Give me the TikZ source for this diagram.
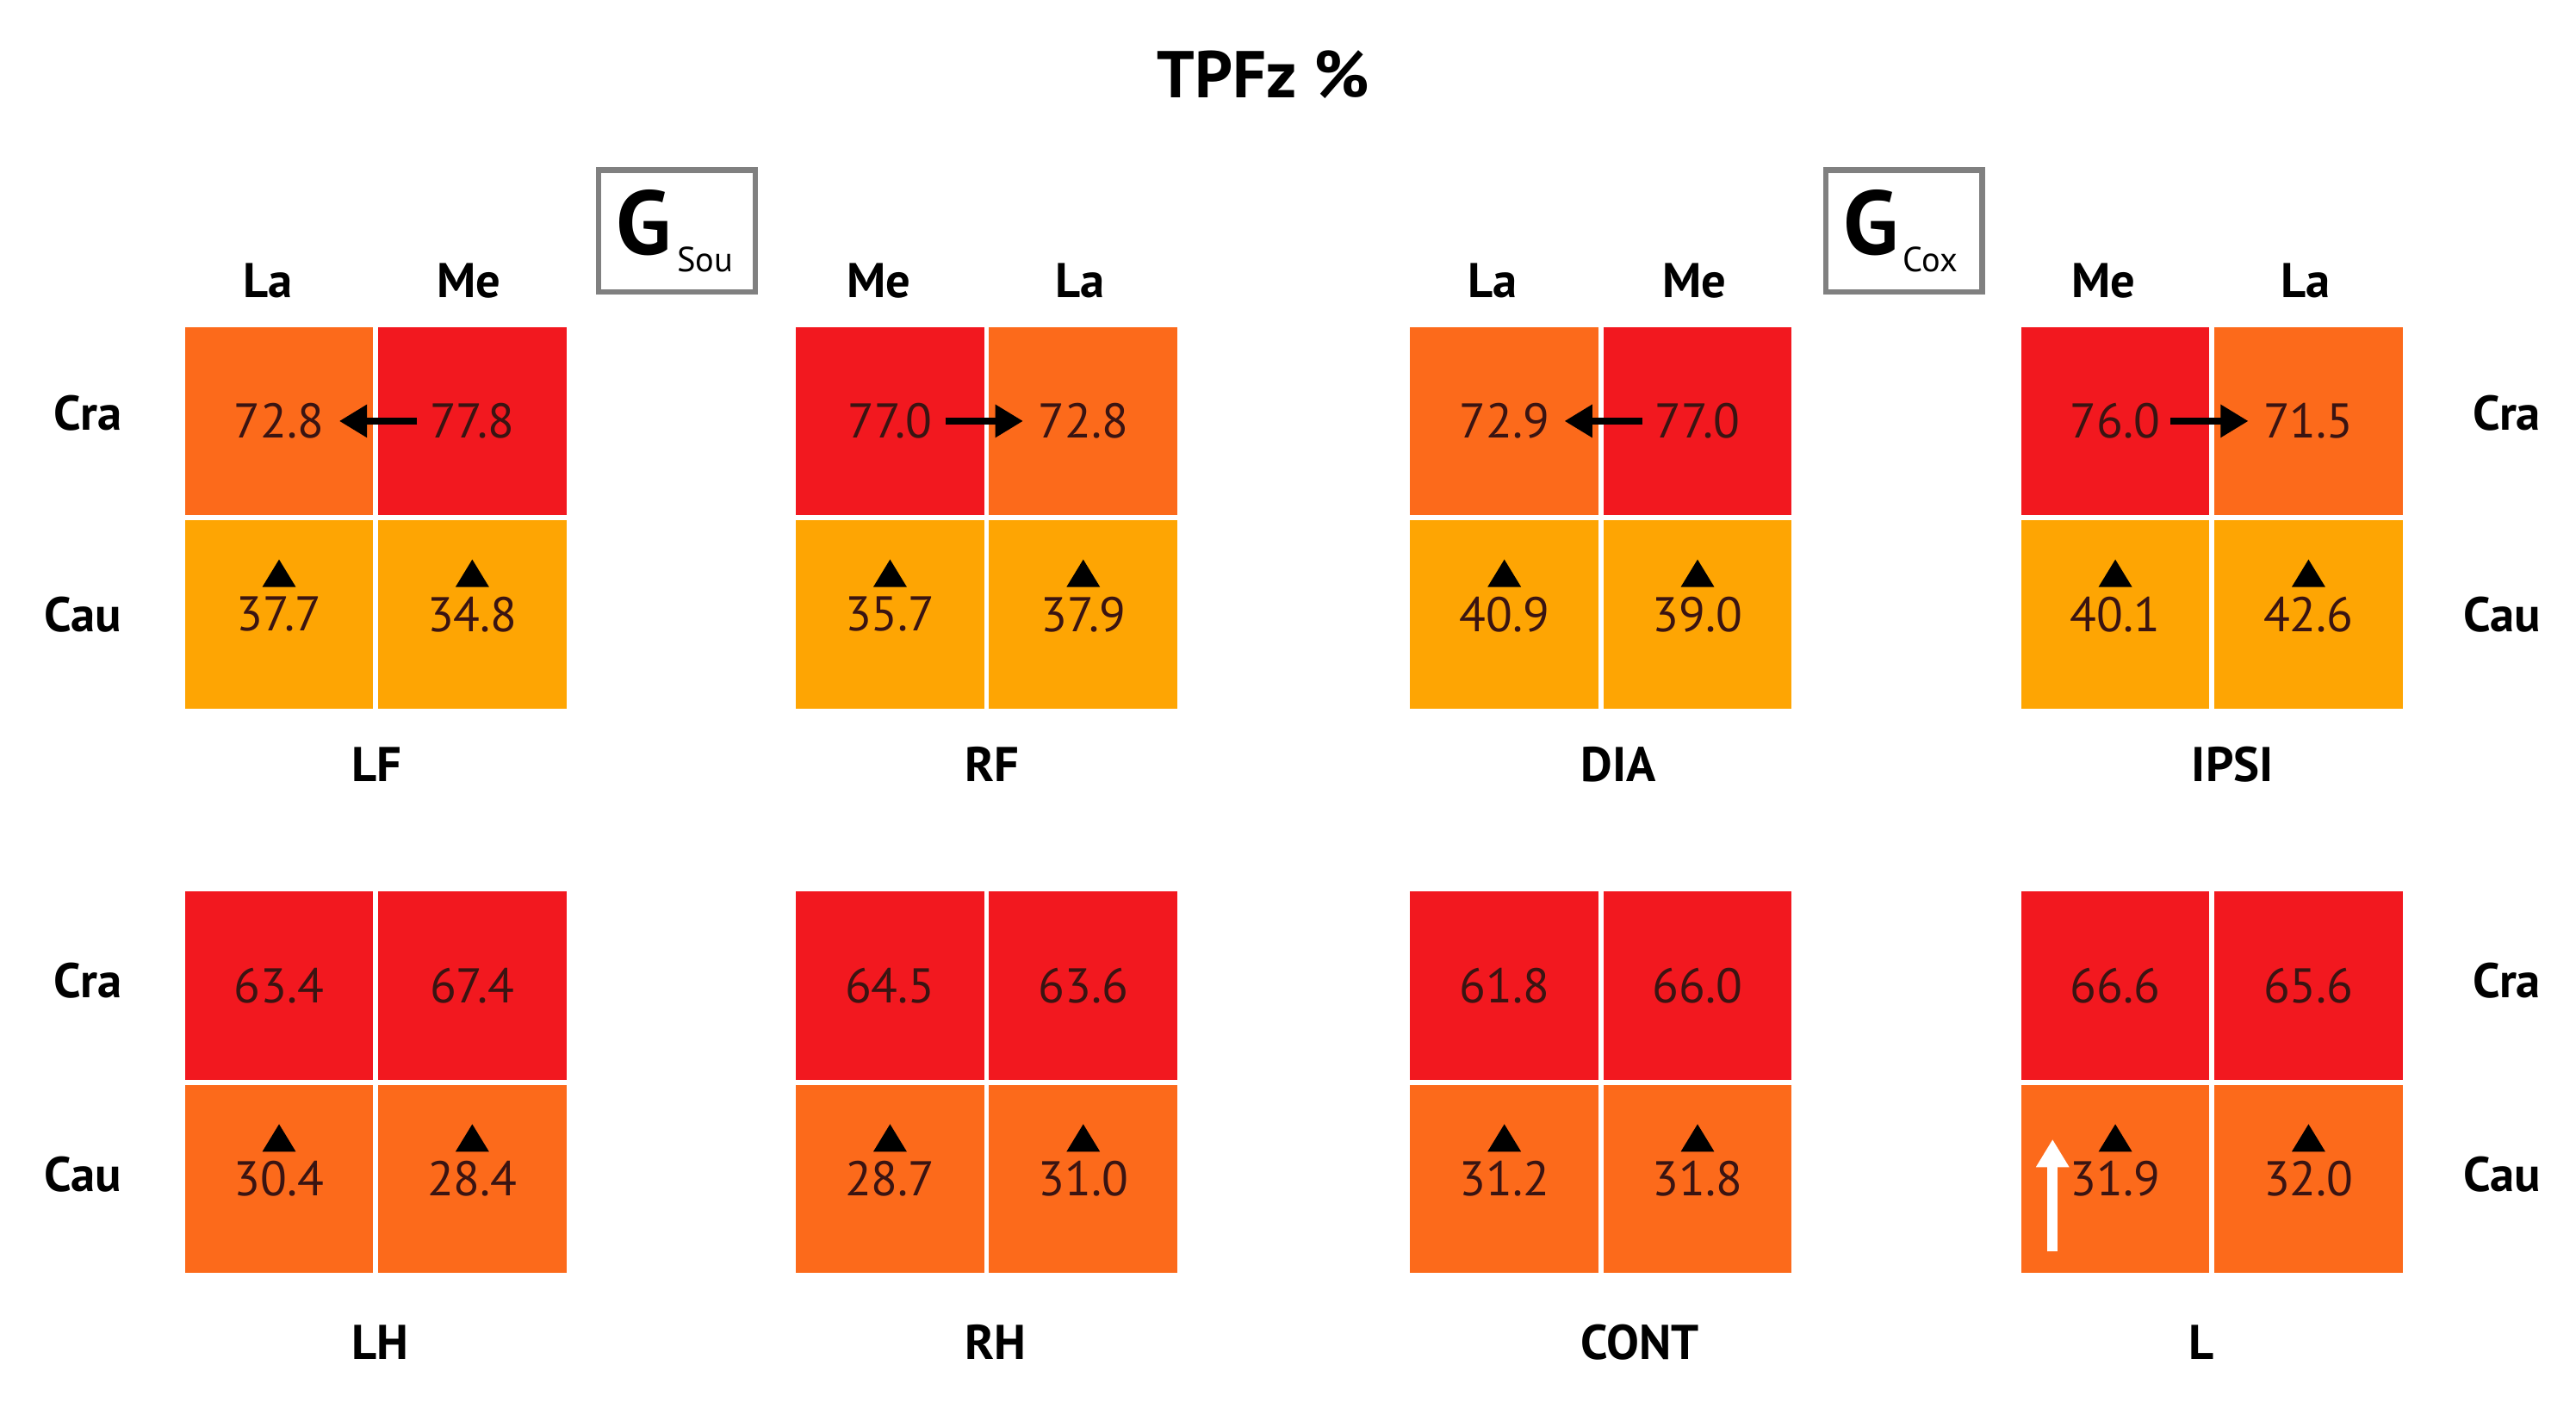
\documentclass[tikz,border=0pt]{standalone}
\usepackage{fontspec}
\setmainfont{PT Sans}
\usetikzlibrary{arrows.meta}

\definecolor{cred}{HTML}{F2181F}
\definecolor{corange}{HTML}{FC6A1B}
\definecolor{cyellow}{HTML}{FEA503}
\definecolor{cnum}{HTML}{3A1412}

\begin{document}
\begin{tikzpicture}[
            x = 1cm/60, y = -1cm/60, % one unit = one pixel of the reference
            > = {Triangle[length=8pt,width=9pt]}, % arrow head style
            cell/.style = {minimum width = 1.9cm, minimum height = 1.9cm, inner sep = 0pt,
                           font = \fontsize{14}{14}\selectfont, text = cnum},
            lab/.style = {font = \bfseries\fontsize{14}{14}\selectfont},
            flow/.style = {->, line width = 2pt, black},
            gbox/.style = {draw = gray, line width = 1.6pt, minimum width = 1.58cm,
                           minimum height = 1.23cm, inner sep = 0pt}
        ]

        \useasboundingbox (0,0) rectangle (1560,849);

        \node[font = \bfseries\fontsize{19}{19}\selectfont] (title) at (765,45) {TPFz \%};

        \node[gbox] (gsou) at (410,140) {};
        \node[font = \bfseries\fontsize{26}{26}\selectfont] at (390,135) {G};
        \node[font = \fontsize{10}{10}\selectfont] at (427,157) {Sou};
        \node[gbox] (gcox) at (1153,140) {};
        \node[font = \bfseries\fontsize{26}{26}\selectfont] at (1133,135) {G};
        \node[font = \fontsize{10}{10}\selectfont] at (1169,157) {Cox};

        % top row of panels
        \foreach \p/\x/\la/\lb/\ta/\tb/\ba/\bb/\ca/\cb/\h in {
                lf/112/La/Me/72.8/77.8/37.7/34.8/corange/cred/l,
                rf/482/Me/La/77.0/72.8/35.7/37.9/cred/corange/r,
                dia/854/La/Me/72.9/77.0/40.9/39.0/corange/cred/l,
                ipsi/1224/Me/La/76.0/71.5/40.1/42.6/cred/corange/r} {
            \node[cell, fill = \ca] (\p ta) at (\x+57,255) {\ta};
            \node[cell, fill = \cb] (\p tb) at (\x+174,255) {\tb};
            \node[cell, fill = cyellow] (\p ba) at (\x+57,372) {\ba};
            \node[cell, fill = cyellow] (\p bb) at (\x+174,372) {\bb};
            \node[lab] at (\x+50,170) {\la};
            \node[lab] at (\x+172,170) {\lb};
            \draw[flow] ([yshift=-1.15cm+0.5cm]\p ta.south) -- ([yshift=-0.4cm]\p ba.north);
            \draw[flow] ([yshift=-1.15cm+0.5cm]\p tb.south) -- ([yshift=-0.4cm]\p bb.north);
        }
        \foreach \p in {lf, dia} \draw[flow] ([xshift=0.4cm]\p tb.west) -- ([xshift=-0.35cm]\p ta.east);
        \foreach \p in {rf, ipsi} \draw[flow] ([xshift=-0.4cm]\p ta.east) -- ([xshift=0.35cm]\p tb.west);

        % bottom row of panels
        \foreach \p/\x/\ta/\tb/\ba/\bb in {
                lh/112/63.4/67.4/30.4/28.4,
                rh/482/64.5/63.6/28.7/31.0,
                cont/854/61.8/66.0/31.2/31.8,
                l/1224/66.6/65.6/31.9/32.0} {
            \node[cell, fill = cred] (\p ta) at (\x+57,597) {\ta};
            \node[cell, fill = cred] (\p tb) at (\x+174,597) {\tb};
            \node[cell, fill = corange] (\p ba) at (\x+57,714) {\ba};
            \node[cell, fill = corange] (\p bb) at (\x+174,714) {\bb};
            \draw[flow] ([yshift=-1.15cm+0.5cm]\p ta.south) -- ([yshift=-0.4cm]\p ba.north);
            \draw[flow] ([yshift=-1.15cm+0.5cm]\p tb.south) -- ([yshift=-0.4cm]\p bb.north);
        }
        \coordinate (wa) at (1243,758);
        \coordinate (wb) at (1243,690);
        \draw[flow, white, line width = 3pt] (wa) -- (wb);

        % panel names
        \foreach \n/\x/\y in {LF/228/463, RF/601/463, DIA/980/463, IPSI/1352/463,
                LH/230/813, RH/603/813, CONT/993/813, L/1333/813}
            \node[lab] at (\x,\y) {\n};

        % row labels
        \foreach \x in {53, 1518} {
            \node[lab] at (\x,250) {Cra};
            \node[lab] at (\x-3,372) {Cau};
            \node[lab] at (\x,594) {Cra};
            \node[lab] at (\x-3,711) {Cau};
        }
    \end{tikzpicture}
\end{document}
